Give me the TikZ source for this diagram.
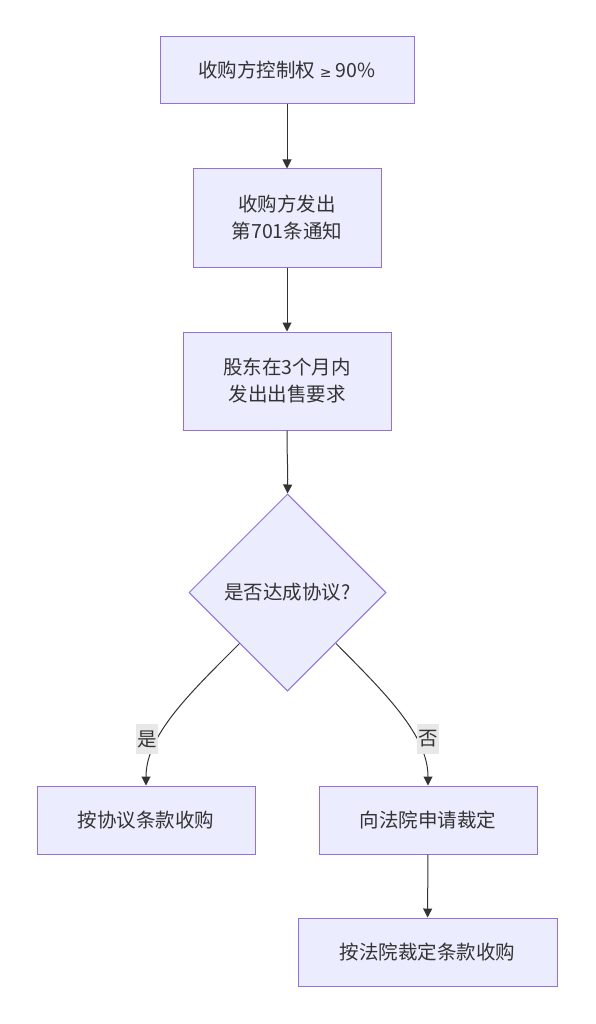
\documentclass[tikz,border=0pt]{standalone}
\usepackage{fontspec}
\setmainfont{Noto Sans CJK SC}
\newfontfamily\symfont{DejaVu Sans}
\usetikzlibrary{shapes.geometric,arrows.meta}
\definecolor{nodefill}{HTML}{ECECFF}
\definecolor{nodeborder}{HTML}{9370DB}
\definecolor{txt}{HTML}{333333}
\definecolor{lblbg}{HTML}{E8E8E8}
\begin{document}
\begin{tikzpicture}[x=1pt,y=-1pt,
  box/.style={draw=nodeborder,fill=nodefill,line width=1pt,text=txt,align=center,
    font=\fontsize{19.5}{27}\selectfont,inner sep=0pt},
  dec/.style={draw=nodeborder,fill=nodefill,line width=1pt,text=txt,diamond,aspect=1,
    minimum width=197pt,minimum height=197pt,inner sep=0pt,font=\fontsize{19.5}{27}\selectfont},
  conn/.style={draw=txt,line width=1pt,-{Triangle[length=9pt,width=9pt]}},
  lbl/.style={fill=lblbg,text=txt,inner xsep=1pt,minimum height=30pt,font=\fontsize{19.5}{22}\selectfont}]
\useasboundingbox (0,0) rectangle (595,1024);
\node[box,minimum width=254pt,minimum height=67pt] (a) at (287,70.5) {收购方控制权 {\symfont\fontsize{14}{14}\selectfont ≥} 90\%};
\node[box,minimum width=188pt,minimum height=98pt] (b) at (287,218) {收购方发出\\第701条通知};
\node[box,minimum width=208pt,minimum height=98pt] (c) at (287,381) {股东在3个月内\\发出出售要求};
\node[dec] (d) at (287.5,592.5) {是否达成协议?};
\node[box,minimum width=218pt,minimum height=68pt] (e) at (146,820) {按协议条款收购};
\node[box,minimum width=218pt,minimum height=68pt] (f) at (428,820) {向法院申请裁定};
\node[box,minimum width=259pt,minimum height=68pt] (g) at (427.5,952) {按法院裁定条款收购};
\draw[conn] (a) -- (b);
\draw[conn] (b) -- (c);
\draw[conn] (c.south) .. controls (287,460) and (288,470) .. (d.north);
\coordinate (dl) at (239.5,643.5);
\coordinate (dr) at (336,643.5);
\draw[conn] (dl) .. controls (190,693) and (146,735) .. (e.north);
\draw[conn] (dr) .. controls (385,693) and (428,735) .. (f.north);
\node[lbl] (ly) at (147,739) {是};
\node[lbl] (ln) at (428,739) {否};
\draw[conn] (f) -- (g);
\end{tikzpicture}
\end{document}
